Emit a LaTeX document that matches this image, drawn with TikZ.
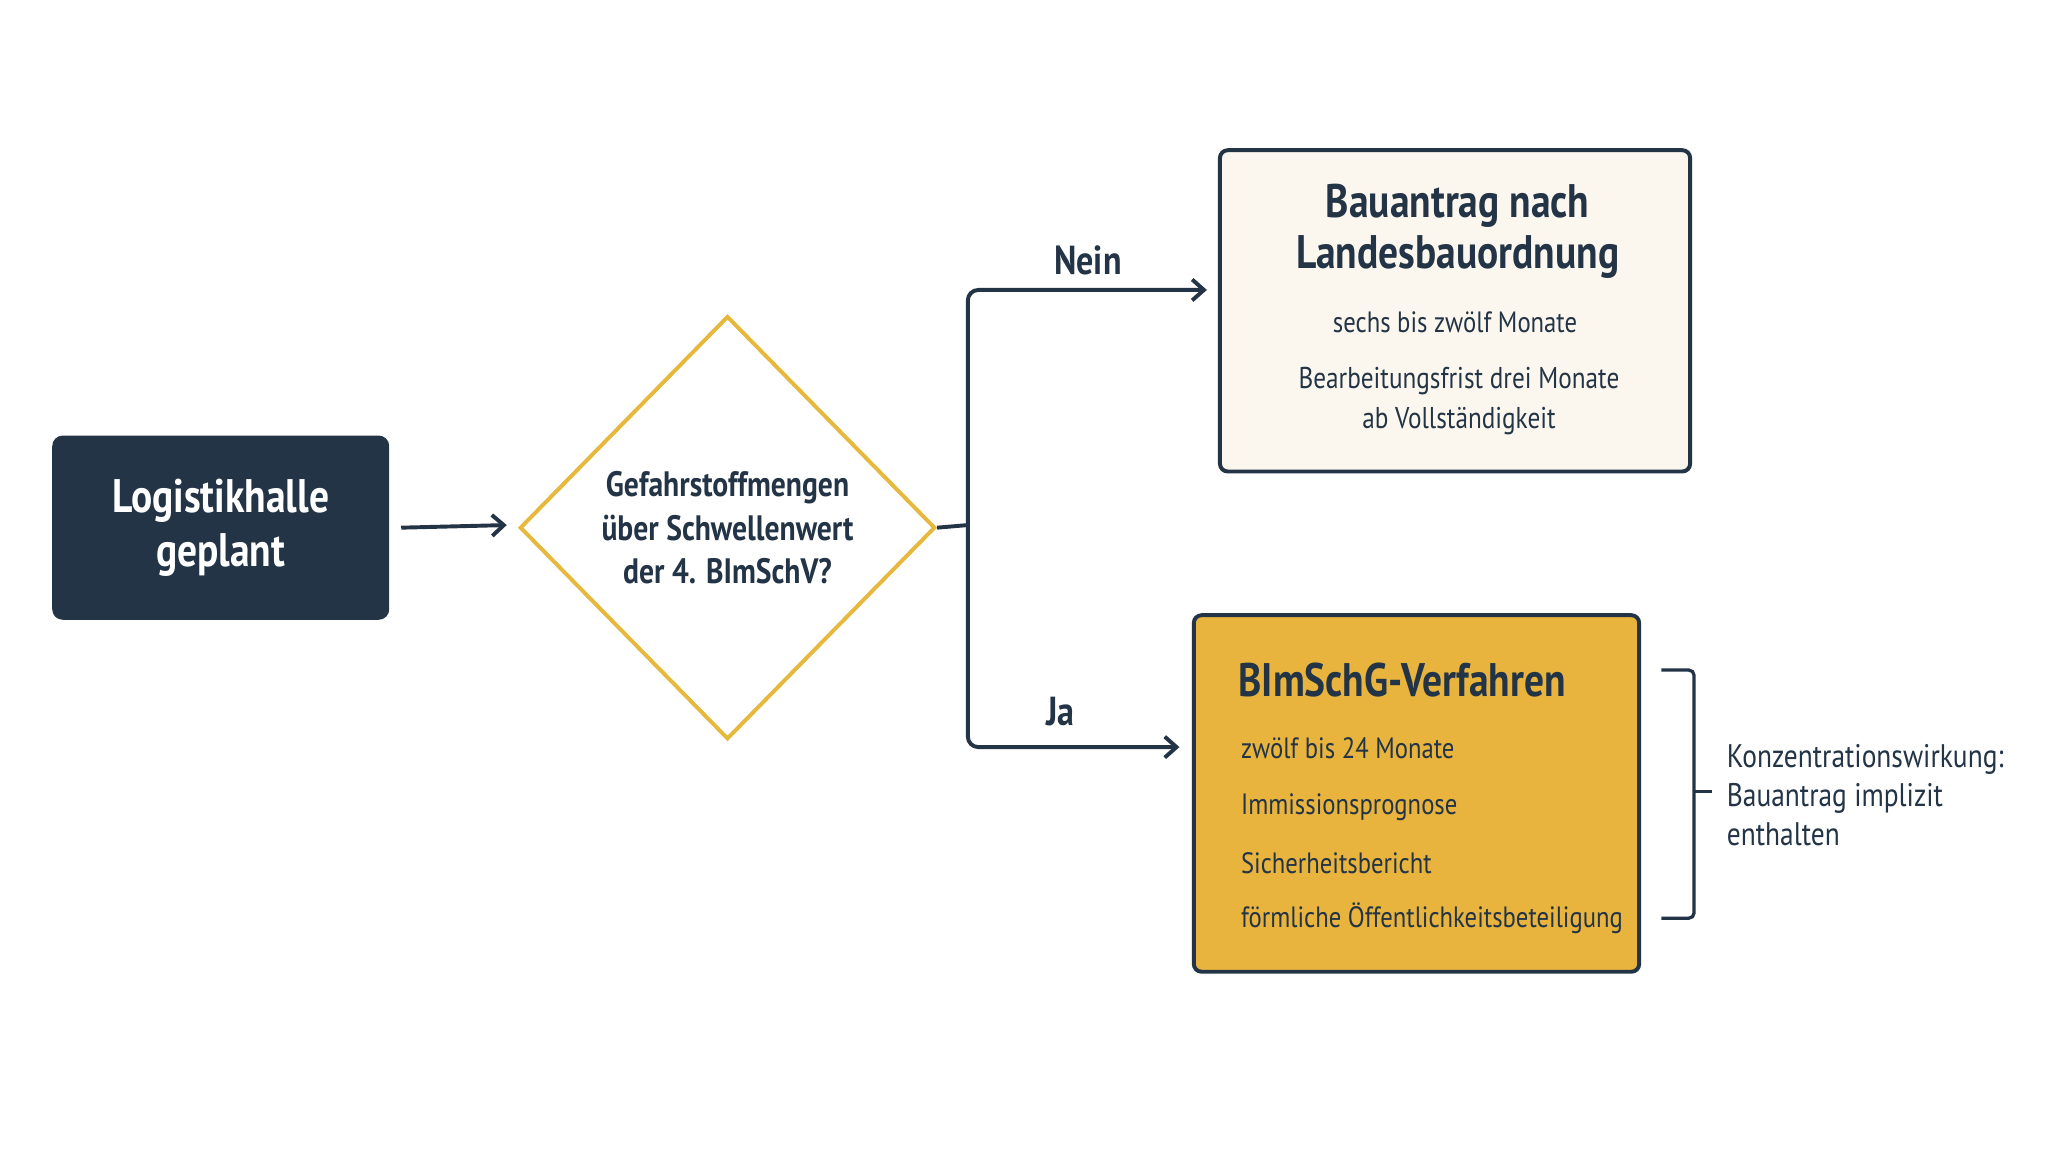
\documentclass[tikz,border=0pt]{standalone}
\usepackage{fontspec}
\setmainfont{PT Sans}[FakeStretch=0.84]
\usetikzlibrary{shapes.geometric,arrows.meta}
\definecolor{navy}{HTML}{233446}
\definecolor{gold}{HTML}{E8B43E}
\definecolor{goldline}{HTML}{E6B83C}
\definecolor{cream}{HTML}{FBF7EE}
\begin{document}
\begin{tikzpicture}[x=1pt,y=-1pt,
  line/.style={draw=navy,line width=3pt},
  arr/.style={line,-{Straight Barb[length=9pt,width=16pt,line width=3pt]}},
  body/.style={font=\fontsize{22.5}{26}\selectfont,text=navy,inner sep=0pt},
  head/.style={font=\fontsize{36}{40}\selectfont\bfseries,text=navy,inner sep=0pt}]
\useasboundingbox (0,0) rectangle (1568,882);
\fill[white] (0,0) rectangle (1568,882);
% start box
\node[fill=navy,rounded corners=8pt,minimum width=258pt,minimum height=141pt,inner sep=0pt,
  text=white,align=center,font=\fontsize{36}{41}\selectfont\bfseries] (start) at (169,404) {Logistikhalle\\geplant};
% diamond
\node[diamond,draw=goldline,line width=3pt,fill=white,minimum width=318pt,minimum height=324pt,inner sep=0pt,
  align=center,font=\fontsize{27}{33}\selectfont\bfseries,text=navy] (dec) at (557,404)
  {Gefahrstoffmengen\\über Schwellenwert\\der 4. BImSchV?};
\draw[arr] (start.east)++(9,0) coordinate (s0) -- (388,402) coordinate (s1);
% top box
\node[draw=navy,line width=3pt,fill=cream,rounded corners=6pt,minimum width=360pt,minimum height=246pt] (nein) at (1114,238) {};
\node[head,align=center,font=\fontsize{36}{39}\selectfont\bfseries] (t1) at (1116,177) {Bauantrag nach\\Landesbauordnung};
\node[body] (t2) at (1114,247) {sechs bis zwölf Monate};
\node[body,align=center,font=\fontsize{23}{31}\selectfont] (t3) at (1117,307) {Bearbeitungsfrist drei Monate\\ab Vollständigkeit};
% bottom box
\node[draw=navy,line width=3pt,fill=gold,rounded corners=6pt,minimum width=341pt,minimum height=273pt] (ja) at (1084.5,607.5) {};
\node[head,anchor=west] (b1) at (948,521) {BImSchG-Verfahren};
\node[body,anchor=west] (b2) at (950,573) {zwölf bis 24 Monate};
\node[body,anchor=west] (b3) at (950,618) {Immissionsprognose};
\node[body,anchor=west] (b4) at (950,661) {Sicherheitsbericht};
\node[body,anchor=west] (b5) at (950,703) {förmliche Öffentlichkeitsbeteiligung};
% branch
\coordinate (j) at (741,402);
\draw[line] (dec.east) -- (j);
\draw[arr,rounded corners=8pt] (j) -- (741,222) -- (924,222) coordinate (nt);
\draw[arr,rounded corners=8pt] (j) -- (741,572) -- (903,572) coordinate (jt);
\node[head,font=\fontsize{31}{33}\selectfont\bfseries] (nl) at (833,199) {Nein};
\node[head,font=\fontsize{31}{33}\selectfont\bfseries] (jl) at (812,545) {Ja};
% brace
\draw[draw=navy,line width=2.5pt,rounded corners=4pt] (1272,513) -- (1297,513) -- (1297,703) -- (1272,703);
\draw[draw=navy,line width=2.5pt] (1297,606) -- (1311,606);
\node[body,anchor=west,align=left,font=\fontsize{25}{30}\selectfont] (k) at (1322,609)
  {Konzentrationswirkung:\\Bauantrag implizit\\enthalten};
\end{tikzpicture}
\end{document}
